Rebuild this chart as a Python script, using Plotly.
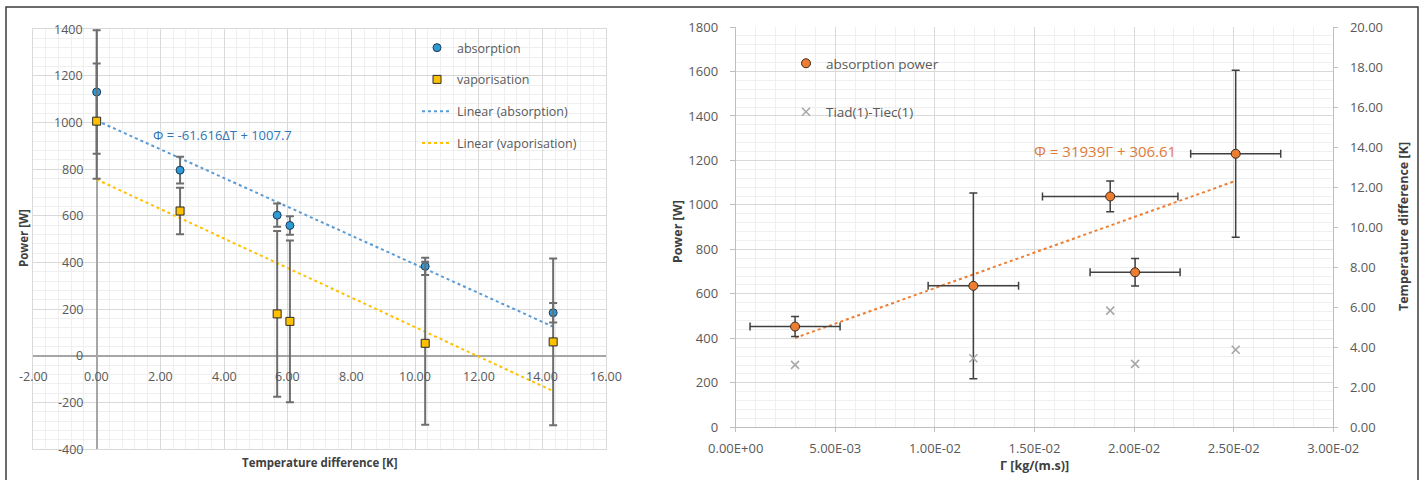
import numpy as np
import plotly.graph_objects as go

W, H = 1423, 480

# ---------------- data: left chart ----------------
dT = [0.0, 2.62, 5.67, 6.07, 10.32, 14.34]
P_absorption = [1130, 795, 602, 558, 383, 184]
P_absorption_err = [265, 57, 50, 40, 37, 42]
P_vaporisation = [1005, 620, 179, 147, 53, 59]
P_vaporisation_err = [247, 100, 355, 347, 349, 357]
fit_absorption = [-61.616, 1007.7]          # slope, intercept (from chart label)
left_x_ticks = [-2, 0, 2, 4, 6, 8, 10, 12, 14, 16]
left_x_ticktext = ["-2.00", "0.00", "2.00", "4.00", "6.00", "8.00", "10.00", "12.00", "14.00", "16.00"]
left_y_ticks = [-400, -200, 0, 200, 400, 600, 800, 1000, 1200, 1400]

# ---------------- data: right chart ----------------
Gamma = [0.00298, 0.01193, 0.01880, 0.02005, 0.02510]
Gamma_err = [0.00226, 0.00227, 0.0034, 0.00226, 0.00226]
P_power = [453, 636, 1038, 697, 1230]
P_power_err = [45, 418, 69, 62, 375]
dT_right = [3.12, 3.45, 5.83, 3.17, 3.87]
fit_power = [31939, 306.61]
right_x_ticks = [0, 0.005, 0.01, 0.015, 0.02, 0.025, 0.03]
right_x_ticktext = ["0.00E+00", "5.00E-03", "1.00E-02", "1.50E-02", "2.00E-02", "2.50E-02", "3.00E-02"]

FONT = "Open Sans"
TICK_C = "#595959"
TITLE_C = "#404040"
GRID = "#d9d9d9"
MINOR = "#efefef"


def px(x):
    return x / W


def py(y):
    return 1 - y / H


fig = go.Figure()

# ---- left chart traces ----
xa = np.array(dT)
x_fit = np.array([xa.min(), xa.max()])
vap_fit = np.polyfit(xa, np.array(P_vaporisation), 1)

fig.add_trace(go.Scatter(
    x=x_fit, y=fit_absorption[0] * x_fit + fit_absorption[1], mode="lines",
    name="Linear (absorption)", line=dict(color="#5b9bd5", width=2, dash="dot"),
    legendgroup="g3", legendrank=3, xaxis="x", yaxis="y", legend="legend"))
fig.add_trace(go.Scatter(
    x=x_fit, y=np.polyval(vap_fit, x_fit), mode="lines",
    name="Linear (vaporisation)", line=dict(color="#ffc000", width=2, dash="dot"),
    legendgroup="g4", legendrank=4, xaxis="x", yaxis="y", legend="legend"))
fig.add_trace(go.Scatter(
    x=dT, y=P_absorption, mode="markers", name="absorption",
    marker=dict(symbol="circle", size=8, color="#2e9ad6", line=dict(color="#1f3b55", width=1)),
    error_y=dict(type="data", array=P_absorption_err, color="#6e6e6e", thickness=2, width=4),
    legendgroup="g1", legendrank=1, xaxis="x", yaxis="y", legend="legend"))
fig.add_trace(go.Scatter(
    x=dT, y=P_vaporisation, mode="markers", name="vaporisation",
    marker=dict(symbol="square", size=8, color="#ffc000", line=dict(color="#2b2b2b", width=1)),
    error_y=dict(type="data", array=P_vaporisation_err, color="#6e6e6e", thickness=2, width=4),
    legendgroup="g2", legendrank=2, xaxis="x", yaxis="y", legend="legend"))

# ---- right chart traces ----
ga = np.array(Gamma)
g_fit = np.array([ga.min(), ga.max()])
fig.add_trace(go.Scatter(
    x=g_fit, y=fit_power[0] * g_fit + fit_power[1], mode="lines",
    line=dict(color="#ed7d31", width=2, dash="dot"), showlegend=False,
    xaxis="x2", yaxis="y2"))
fig.add_trace(go.Scatter(
    x=Gamma, y=P_power, mode="markers", name="absorption power",
    marker=dict(symbol="circle", size=9, color="#ed7d31", line=dict(color="#3a2a20", width=1)),
    error_y=dict(type="data", array=P_power_err, color="#404040", thickness=1.5, width=4),
    error_x=dict(type="data", array=Gamma_err, color="#404040", thickness=1.5, width=4),
    legendgroup="r1", legendrank=1, xaxis="x2", yaxis="y2", legend="legend2"))
fig.add_trace(go.Scatter(
    x=Gamma, y=dT_right, mode="markers", name="Tiad(1)-Tiec(1)",
    marker=dict(symbol="x-thin", size=8, color="#a6a6a6", line=dict(color="#a6a6a6", width=1.5)),
    legendgroup="r2", legendrank=2, xaxis="x2", yaxis="y3", legend="legend2"))

annotations = []
# left tick labels (axes cross at zero)
for v in left_y_ticks:
    annotations.append(dict(x=0, y=v, xref="x", yref="y", text=str(v), showarrow=False,
                            xanchor="right", yanchor="middle", xshift=-12,
                            font=dict(family=FONT, size=12.5, color=TICK_C)))
for v, t in zip(left_x_ticks, left_x_ticktext):
    annotations.append(dict(x=v, y=0, xref="x", yref="y", text=t, showarrow=False,
                            xanchor="center", yanchor="top", yshift=-10,
                            font=dict(family=FONT, size=12.5, color=TICK_C)))


def label(x, y, text, size, color=TITLE_C, angle=0, xanchor="center"):
    return dict(x=px(x), y=py(y), xref="paper", yref="paper", text=text, textangle=angle,
                xanchor=xanchor, yanchor="middle", showarrow=False,
                font=dict(family=FONT, size=size, color=color))


annotations += [
    label(23, 238, "<b>Power [W]</b>", 11.5, angle=-90),
    label(320, 462, "<b>Temperature difference [K]</b>", 11.5),
    label(677, 232, "<b>Power [W]</b>", 12.5, angle=-90),
    label(1403, 227, "<b>Temperature difference [K]</b>", 12.5, angle=-90),
    label(1034, 465, "<b>Γ [kg/(m.s)]</b>", 12.5),
    label(151, 135, "Φ = -61.616ΔT + 1007.7", 13, color="#2e75b6", xanchor="left"),
    label(1032, 151, "Φ = 31939Γ + 306.61", 15, color="#e07b39", xanchor="left"),
]

shapes = [
    # legend backgrounds
    dict(type="rect", xref="paper", yref="paper", x0=px(414), x1=px(605), y0=py(160), y1=py(29),
         fillcolor="white", line=dict(width=0), layer="between"),
    dict(type="rect", xref="paper", yref="paper", x0=px(785), x1=px(958), y0=py(145), y1=py(50),
         fillcolor="white", line=dict(width=0), layer="between"),
    # outer frame
    dict(type="rect", xref="paper", yref="paper", x0=px(6), x1=px(1418), y0=-0.1, y1=py(7),
         line=dict(color="#3a3a3a", width=1.5), layer="above"),
]

axis_common = dict(showgrid=True, gridcolor=GRID, gridwidth=1, automargin=False)

fig.update_layout(
    template="none",
    width=W, height=H, autosize=False,
    margin=dict(l=0, r=0, t=0, b=0, pad=0, autoexpand=False),
    paper_bgcolor="white", plot_bgcolor="white",
    font=dict(family=FONT, size=12, color=TICK_C),
    xaxis=dict(domain=[px(33), px(606)], range=[-2, 16], tick0=0, dtick=2,
               showticklabels=False, ticks="", zeroline=True, zerolinecolor="#a6a6a6",
               zerolinewidth=1.5, showline=True, mirror=True, linecolor=GRID,
               minor=dict(dtick=0.4, tick0=0, showgrid=True, gridcolor=MINOR),
               anchor="y", **axis_common),
    yaxis=dict(domain=[py(449), py(29)], range=[-400, 1400], tick0=0, dtick=200,
               showticklabels=False, ticks="", zeroline=True, zerolinecolor="#a6a6a6",
               zerolinewidth=1.5, showline=True, mirror=True, linecolor=GRID,
               minor=dict(dtick=40, tick0=0, showgrid=True, gridcolor=MINOR),
               anchor="x", **axis_common),
    xaxis2=dict(domain=[px(735.7), px(1333.3)], range=[0, 0.03],
                tickmode="array", tickvals=right_x_ticks, ticktext=right_x_ticktext,
                ticks="outside", ticklen=4, tickcolor="#bfbfbf", ticklabelstandoff=5,
                tickfont=dict(family=FONT, size=13, color=TICK_C),
                showline=True, linecolor="#bfbfbf", zeroline=False,
                minor=dict(dtick=0.001, tick0=0, showgrid=True, gridcolor=MINOR),
                anchor="y2", **axis_common),
    yaxis2=dict(domain=[py(427.3), py(27)], range=[0, 1800], tick0=0, dtick=200,
                ticks="outside", ticklen=5, tickcolor="#bfbfbf", ticklabelstandoff=9,
                tickfont=dict(family=FONT, size=13, color=TICK_C),
                showline=True, linecolor="#bfbfbf", zeroline=False,
                minor=dict(dtick=40, tick0=0, showgrid=True, gridcolor=MINOR),
                anchor="x2", **axis_common),
    yaxis3=dict(overlaying="y2", side="right", anchor="x2", range=[0, 20], tick0=0, dtick=2,
                tickformat=".2f", ticks="outside", ticklen=4, tickcolor="#bfbfbf",
                ticklabelstandoff=9, tickfont=dict(family=FONT, size=13, color=TICK_C),
                showgrid=False, zeroline=False, showline=True, linecolor="#bfbfbf",
                automargin=False),
    legend=dict(x=px(417), y=py(33), xanchor="left", yanchor="top",
                bgcolor="rgba(0,0,0,0)", borderwidth=0, tracegroupgap=12.5,
                font=dict(family=FONT, size=12.5, color=TICK_C)),
    legend2=dict(x=px(786), y=py(48), xanchor="left", yanchor="top",
                 bgcolor="rgba(0,0,0,0)", borderwidth=0, tracegroupgap=28,
                 font=dict(family=FONT, size=13.5, color=TICK_C)),
    annotations=annotations,
    shapes=shapes,
)

fig.write_html("out.html")
